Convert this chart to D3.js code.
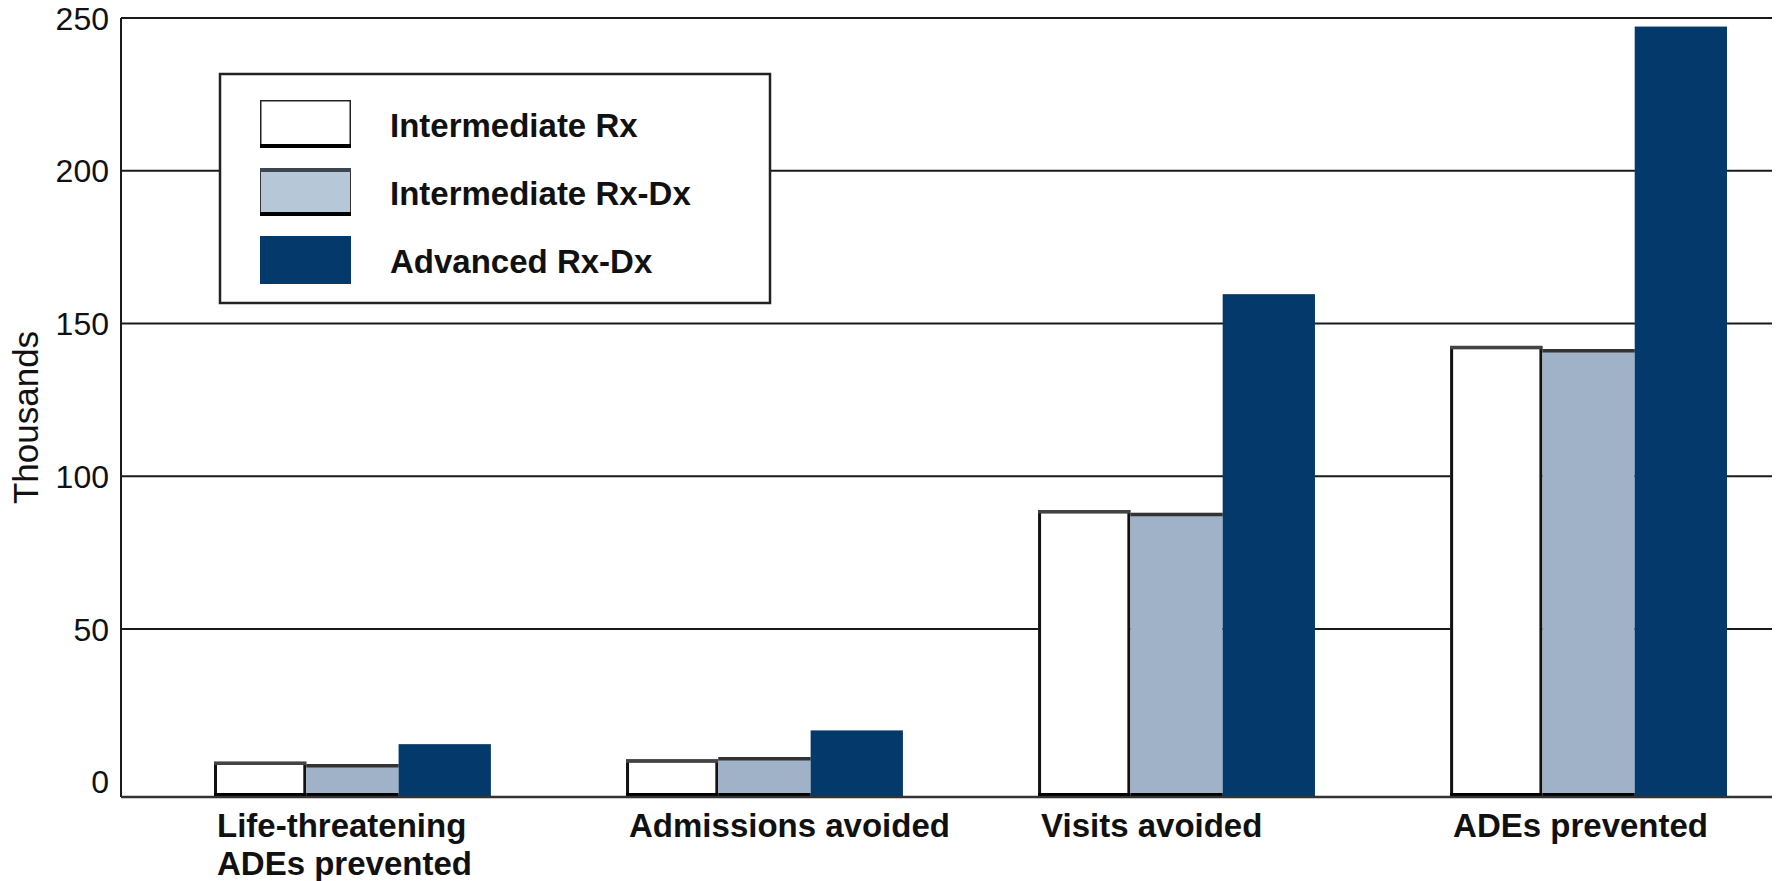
<!DOCTYPE html>
<html>
<head>
<meta charset="utf-8">
<script src="https://cdn.jsdelivr.net/npm/d3@7"></script>
<style>
  html, body { margin: 0; padding: 0; background: #fff; }
  svg { display: block; }
</style>
</head>
<body>
<svg id="chart" width="1781" height="881"></svg>
<script>
// Outcome categories (multi-line x labels)
const categories = ["Life-threatening ADEs prevented", "Admissions avoided", "Visits avoided", "ADEs prevented"];
const categoryLines = [["Life-threatening", "ADEs prevented"], ["Admissions avoided"], ["Visits avoided"], ["ADEs prevented"]];

// Series (thousands)
const seriesNames = ["Intermediate Rx", "Intermediate Rx-Dx", "Advanced Rx-Dx"];
const intermediateRx   = [6.5, 7.3, 88.9, 142.6];
const intermediateRxDx = [5.7, 8.0, 88.0, 141.6];
const advancedRxDx     = [12.3, 16.8, 159.6, 247.2];

// Y axis
const yTicks = [0, 50, 100, 150, 200, 250];
const yTitle = "Thousands";

const seriesValues = [intermediateRx, intermediateRxDx, advancedRxDx];
const fills = ["#ffffff", "#9fb2c7", "#043a6b"];
const legendFills = ["#ffffff", "#b6c7d7", "#043a6b"];

const W = 1781, H = 881;
const plot = { left: 121, right: 1772, top: 18, bottom: 797 };
const floorValue = -5; // baseline sits a little below zero

const svg = d3.select("#chart");

const y = d3.scaleLinear().domain([floorValue, 250]).range([plot.bottom, plot.top]);
const x0 = d3.scaleBand().domain(categories)
  .range([plot.left + 93, plot.right - 45])
  .paddingInner(0.328).paddingOuter(0);
const x1 = d3.scaleBand().domain(seriesNames).range([0, x0.bandwidth()]).padding(0);

// Gridlines
svg.append("g")
  .selectAll("line")
  .data(yTicks.filter(d => d > 0))
  .join("line")
  .attr("x1", plot.left).attr("x2", plot.right)
  .attr("y1", d => y(d)).attr("y2", d => y(d))
  .attr("stroke", "#1a1a1a").attr("stroke-width", 2);

// Tick labels
svg.append("g")
  .selectAll("text")
  .data(yTicks)
  .join("text")
  .attr("x", plot.left - 12)
  .attr("y", d => y(d))
  .attr("dy", "0.36em")
  .attr("text-anchor", "end")
  .attr("font-family", "'Liberation Sans', Arial, sans-serif")
  .attr("font-size", 32)
  .attr("fill", "#111")
  .text(d => d);

// Y axis title
svg.append("text")
  .attr("transform", `translate(38, ${(plot.top + plot.bottom) / 2 + 10}) rotate(-90)`)
  .attr("text-anchor", "middle")
  .attr("font-family", "'Liberation Sans', Arial, sans-serif")
  .attr("font-size", 35)
  .attr("fill", "#111")
  .text(yTitle);

// Bars
const rows = categories.map((c, i) => ({ cat: c, vals: seriesNames.map((s, j) => ({ s, j, v: seriesValues[j][i] })) }));
const groups = svg.append("g").selectAll("g")
  .data(rows).join("g")
  .attr("transform", d => `translate(${x0(d.cat)},0)`);

groups.each(function(row) {
  const g = d3.select(this);
  row.vals.forEach(({ s, j, v }) => {
    const bx = x1(s), bw = x1.bandwidth();
    const top = y(v), base = y(floorValue);
    g.append("rect")
      .attr("x", bx).attr("y", top)
      .attr("width", bw).attr("height", base - top)
      .attr("fill", fills[j]);
    if (j === 0) {
      // outlined white bar
      g.append("rect")
        .attr("x", bx + 1.5).attr("y", top + 1.5)
        .attr("width", bw - 3).attr("height", base - top - 3)
        .attr("fill", "none").attr("stroke", "#111").attr("stroke-width", 3);
      g.append("line")
        .attr("x1", bx).attr("x2", bx + bw)
        .attr("y1", top + 1.5).attr("y2", top + 1.5)
        .attr("stroke", "#444").attr("stroke-width", 3.5);
    }
    if (j === 1) {
      g.append("line")
        .attr("x1", bx).attr("x2", bx + bw)
        .attr("y1", top + 1.5).attr("y2", top + 1.5)
        .attr("stroke", "#333").attr("stroke-width", 3.5);
    }
    if (j < 2) {
      g.append("line")
        .attr("x1", bx).attr("x2", bx + bw)
        .attr("y1", base - 2).attr("y2", base - 2)
        .attr("stroke", "#000").attr("stroke-width", 4);
    }
  });
});

// Axis line and baseline
svg.append("line")
  .attr("x1", plot.left).attr("x2", plot.left)
  .attr("y1", plot.top).attr("y2", y(floorValue))
  .attr("stroke", "#1a1a1a").attr("stroke-width", 2);
svg.append("line")
  .attr("x1", plot.left).attr("x2", plot.right)
  .attr("y1", y(floorValue)).attr("y2", y(floorValue))
  .attr("stroke", "#333").attr("stroke-width", 2.5);

// Category labels
const labels = svg.append("g").selectAll("text")
  .data(rows).join("text")
  .attr("x", d => x0(d.cat) + 3)
  .attr("y", 837)
  .attr("font-family", "'Liberation Sans', Arial, sans-serif")
  .attr("font-weight", "bold")
  .attr("font-size", 33)
  .attr("fill", "#111");
labels.each(function(d, i) {
  d3.select(this).selectAll("tspan")
    .data(categoryLines[i]).join("tspan")
    .attr("x", x0(d.cat) + 3)
    .attr("dy", (t, k) => k === 0 ? 0 : 38)
    .text(t => t);
});

// Legend
const legend = svg.append("g").attr("transform", "translate(220,74)");
legend.append("rect")
  .attr("x", 0).attr("y", 0).attr("width", 550).attr("height", 229)
  .attr("fill", "#fff").attr("stroke", "#222").attr("stroke-width", 2.5);
seriesNames.forEach((name, j) => {
  const ly = 26 + j * 68;
  legend.append("rect")
    .attr("x", 40).attr("y", ly).attr("width", 91).attr("height", 48)
    .attr("fill", legendFills[j]);
  if (j === 0) {
    legend.append("rect")
      .attr("x", 40.75).attr("y", ly + 0.75).attr("width", 89.5).attr("height", 46.5)
      .attr("fill", "none").attr("stroke", "#222").attr("stroke-width", 1.5);
  }
  if (j === 1) {
    legend.append("rect")
      .attr("x", 40.5).attr("y", ly + 0.5).attr("width", 90).attr("height", 47)
      .attr("fill", "none").attr("stroke", "#333").attr("stroke-width", 1);
    legend.append("line")
      .attr("x1", 40).attr("x2", 131).attr("y1", ly + 2).attr("y2", ly + 2)
      .attr("stroke", "#3b4650").attr("stroke-width", 4);
  }
  if (j < 2) {
    legend.append("line")
      .attr("x1", 40).attr("x2", 131).attr("y1", ly + 46).attr("y2", ly + 46)
      .attr("stroke", "#000").attr("stroke-width", 4);
  }
  legend.append("text")
    .attr("x", 170).attr("y", ly + 37)
    .attr("font-family", "'Liberation Sans', Arial, sans-serif")
    .attr("font-weight", "bold")
    .attr("font-size", 33)
    .attr("fill", "#111")
    .text(name);
});
</script>
</body>
</html>
